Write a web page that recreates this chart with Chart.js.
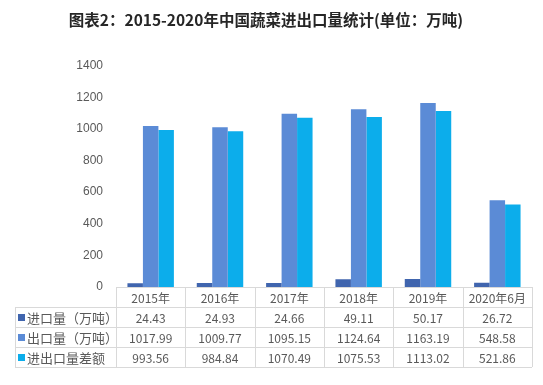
<!DOCTYPE html>
<html>
<head>
<meta charset="utf-8">
<script src="https://cdn.jsdelivr.net/npm/chart.js@4/dist/chart.umd.min.js"></script>
<style>
html,body{margin:0;padding:0;background:#fff;}
#wrap{width:543px;height:385px;position:relative;}
</style>
</head>
<body>
<div id="wrap"><canvas id="c" width="543" height="385"></canvas></div>
<script>
const categories = ["2015年","2016年","2017年","2018年","2019年","2020年6月"];
const seriesNames = ["进口量（万吨）","出口量（万吨）","进出口量差额"];
const importVals = [24.43, 24.93, 24.66, 49.11, 50.17, 26.72];
const exportVals = [1017.99, 1009.77, 1095.15, 1124.64, 1163.19, 548.58];
const diffVals = [993.56, 984.84, 1070.49, 1075.53, 1113.02, 521.86];
const importLabels = ["24.43","24.93","24.66","49.11","50.17","26.72"];
const exportLabels = ["1017.99","1009.77","1095.15","1124.64","1163.19","548.58"];
const diffLabels = ["993.56","984.84","1070.49","1075.53","1113.02","521.86"];
const colors = ["#4065AE","#5B8BD6","#0CADEB"];

const FONT = "'Microsoft YaHei','Noto Sans CJK SC','Noto Sans',sans-serif";
const NUMFONT = "Arial,'Liberation Sans',sans-serif";

const tablePlugin = {
  id: 'dataTable',
  afterDraw(chart) {
    const ctx = chart.ctx;
    const xs = chart.scales.x;
    const area = chart.chartArea;
    const top = area.bottom;
    const rowH = 20;
    const tableLeft = 15;
    const n = categories.length;
    const step = (area.right - area.left) / n;
    const edges = [];
    for (let i = 0; i <= n; i++) edges.push(area.left + step * i);
    ctx.save();
    ctx.strokeStyle = '#D9D9D9';
    ctx.lineWidth = 1;
    ctx.beginPath();
    ctx.moveTo(area.left, top + 0.5); ctx.lineTo(area.right, top + 0.5);
    for (let r = 1; r <= 4; r++) {
      const y = Math.round(top + r * rowH) + 0.5;
      ctx.moveTo(tableLeft, y); ctx.lineTo(area.right, y);
    }
    ctx.moveTo(tableLeft + 0.5, top + rowH); ctx.lineTo(tableLeft + 0.5, top + 4 * rowH);
    edges.forEach(e => {
      const x = Math.round(e) + 0.5;
      ctx.moveTo(x, top); ctx.lineTo(x, top + 4 * rowH);
    });
    ctx.stroke();

    ctx.fillStyle = '#595959';
    ctx.font = '12px ' + FONT;
    ctx.textAlign = 'center';
    ctx.textBaseline = 'middle';
    categories.forEach((c, i) => {
      ctx.fillText(c, xs.getPixelForValue(i), top + rowH / 2 + 1);
    });
    const rows = [importLabels, exportLabels, diffLabels];
    rows.forEach((vals, r) => {
      const yc = top + rowH * (r + 1) + rowH / 2 + 1;
      ctx.font = '12px ' + FONT;
      ctx.textAlign = 'center';
      vals.forEach((v, i) => {
        ctx.fillText(v, xs.getPixelForValue(i), yc);
      });
      ctx.fillStyle = colors[r];
      ctx.fillRect(18, Math.round(yc - 4), 7, 7);
      ctx.fillStyle = '#595959';
      ctx.textAlign = 'left';
      ctx.font = '13px ' + FONT;
      ctx.fillText(seriesNames[r], 27, yc);
    });
    ctx.restore();
  }
};

new Chart(document.getElementById('c'), {
  type: 'bar',
  data: {
    labels: categories,
    datasets: [
      { label: seriesNames[0], data: importVals, backgroundColor: colors[0] },
      { label: seriesNames[1], data: exportVals, backgroundColor: colors[1] },
      { label: seriesNames[2], data: diffVals, backgroundColor: colors[2] }
    ]
  },
  options: {
    responsive: false,
    animation: false,
    devicePixelRatio: 1,
    layout: { padding: { left: 0, right: 11, top: 0, bottom: 98 } },
    datasets: { bar: { categoryPercentage: 0.67, barPercentage: 1.0 } },
    plugins: {
      legend: { display: false },
      tooltip: { enabled: false },
      title: {
        display: true,
        text: '图表2：2015-2020年中国蔬菜进出口量统计(单位：万吨)',
        color: '#262626',
        font: { family: FONT, size: 15.5, weight: 'bold' },
        padding: { top: 11, bottom: 36 }
      }
    },
    scales: {
      x: { display: false },
      y: {
        min: 0, max: 1400,
        ticks: { stepSize: 200, color: '#595959', padding: 13, font: { family: NUMFONT, size: 12 },
          callback: (v) => String(v) },
        grid: { display: false, drawTicks: false },
        border: { display: false },
        afterFit(s) { s.width = 116; }
      }
    }
  },
  plugins: [tablePlugin]
});
</script>
</body>
</html>
